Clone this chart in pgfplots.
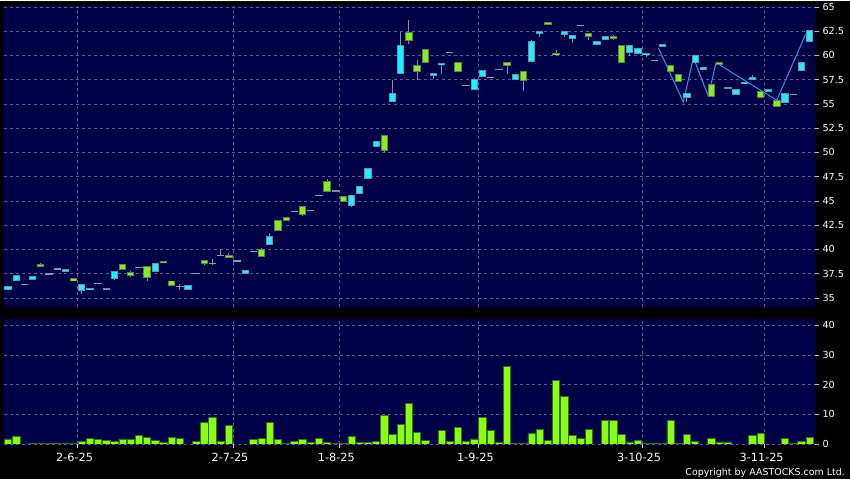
\documentclass[border=0pt]{standalone}
\usepackage{pgfplots}
\pgfplotsset{compat=1.18}
\usepackage{pgfplotstable}
\usepackage{fontspec}
\setmainfont{DejaVu Sans}

\definecolor{navy}{RGB}{0,0,70}
\definecolor{gridc}{RGB}{95,95,150}
\definecolor{cyanf}{RGB}{34,236,255}
\definecolor{cyanb}{RGB}{100,150,175}
\definecolor{greenf}{RGB}{136,236,34}
\definecolor{greenb}{RGB}{95,130,85}
\definecolor{dojic}{RGB}{150,150,172}
\definecolor{wickc}{RGB}{140,140,165}
\definecolor{volf}{RGB}{136,255,17}
\definecolor{volb}{RGB}{50,110,30}
\definecolor{linec}{RGB}{50,150,230}

% up (cyan) candles: body low/high, wick low/high
\pgfplotstableread{
i bl bh wl wh
0 35.86 36.24 35.86 36.24
1 36.78 37.37 36.78 37.37
3 36.89 37.24 36.89 37.24
7 37.71 37.99 37.71 37.99
9 35.75 36.44 35.44 36.44
10 35.80 36.03 35.80 36.03
12 35.80 36.00 35.80 36.00
13 37.00 37.80 36.85 37.80
18 37.71 38.57 37.71 38.57
22 35.80 36.34 35.80 36.34
29 37.50 37.90 37.50 37.90
32 40.50 41.40 40.50 41.70
40 45.90 46.10 45.90 46.10
42 44.50 45.60 44.35 45.60
43 45.75 46.55 45.75 46.55
44 47.30 48.40 47.30 48.40
45 50.60 51.20 50.60 51.20
47 55.24 56.10 55.24 57.50
48 58.06 61.10 58.06 62.45
52 57.92 58.16 57.55 58.16
53 58.99 59.23 58.10 59.23
57 56.41 57.55 56.41 57.70
58 57.80 58.47 57.80 58.47
62 57.44 58.06 57.44 58.06
64 59.30 61.50 59.30 61.60
65 62.25 62.50 61.90 62.50
68 62.15 62.50 61.90 62.50
69 61.73 62.10 61.30 62.10
72 61.05 61.46 61.05 61.46
73 61.57 61.98 61.57 61.98
76 60.23 61.05 59.90 61.05
77 60.12 60.74 60.12 60.74
78 60.02 60.26 59.80 60.26
80 60.88 61.19 60.88 61.19
83 55.65 56.13 55.20 56.13
84 59.20 60.02 59.20 60.02
85 58.47 58.78 58.47 58.78
88 56.52 56.72 56.52 56.72
89 55.96 56.52 55.96 56.52
90 57.03 57.27 57.03 57.27
91 57.50 57.82 57.50 57.95
93 56.20 56.58 56.20 56.58
95 55.10 56.13 55.10 56.13
97 58.37 59.30 58.37 59.30
98 61.36 62.66 61.36 62.66
}\cyantab

% down (green) candles
\pgfplotstableread{
i bl bh wl wh
4 38.23 38.50 38.23 38.60
8 36.70 37.06 36.70 37.06
14 37.85 38.50 37.85 38.50
15 37.30 37.68 37.20 37.78
17 37.03 38.30 36.70 38.30
19 38.60 38.85 38.60 38.85
20 36.27 36.80 36.27 36.80
24 38.54 38.90 38.35 38.90
27 39.15 39.43 39.15 39.60
31 39.20 40.05 39.20 40.20
33 41.90 43.00 41.90 43.00
34 42.90 43.32 42.90 43.32
36 43.60 44.45 43.45 44.45
39 45.96 47.06 45.96 47.25
41 44.93 45.48 44.93 45.48
46 50.15 51.80 49.95 51.80
49 61.53 62.42 61.15 63.66
50 58.30 59.00 57.50 59.54
51 59.26 60.64 59.26 60.64
55 58.27 59.30 58.27 59.30
61 58.90 59.30 58.10 59.30
63 57.40 58.40 56.34 58.40
66 63.10 63.42 63.10 63.42
67 60.02 60.26 60.02 60.60
71 61.87 62.30 61.60 62.30
74 61.73 62.04 61.60 62.15
75 59.20 61.05 59.20 61.05
81 58.33 59.00 58.33 59.00
82 57.30 58.06 57.30 58.06
86 55.75 57.03 55.75 57.03
87 59.02 59.30 59.02 59.30
92 55.59 56.30 55.59 56.30
94 54.69 55.41 54.69 55.41
}\greentab

% doji (open = close)
\pgfplotstableread{
i p wl wh
2 36.40 36.40 36.40
5 37.47 37.47 37.47
6 38.00 38.00 38.00
11 36.52 36.52 36.52
16 38.15 38.15 38.15
21 36.17 35.85 36.40
23 37.55 37.55 37.55
25 38.57 38.40 39.00
26 39.36 39.36 40.05
28 38.80 38.80 38.80
30 39.78 39.78 39.78
35 43.90 43.90 43.90
37 44.04 44.04 44.04
38 45.55 45.55 45.55
54 60.33 60.33 60.33
56 56.90 56.90 56.90
59 57.70 57.70 57.70
60 58.54 58.54 58.54
70 63.10 63.10 63.10
79 59.50 59.50 59.50
96 56.00 56.00 56.00
}\dojitab

% volume
\pgfplotstableread{
i v
0 1.7
1 2.7
3 0.2
4 0.3
5 0.1
6 0.1
7 0.1
8 0.3
9 1.0
10 2.0
11 1.5
12 1.3
13 0.8
14 1.7
15 1.5
16 2.9
17 2.3
18 1.1
19 0.4
20 2.1
21 1.8
23 0.9
24 7.3
25 8.9
26 1.0
27 6.1
30 1.5
31 1.9
32 7.3
33 1.5
34 0.2
35 0.9
36 1.6
37 0.6
38 2.0
39 0.6
40 0.1
41 0.1
42 2.5
43 0.6
44 0.4
45 1.0
46 9.5
47 3.1
48 6.7
49 13.6
50 3.8
51 1.1
53 4.6
54 0.8
55 5.7
56 0.8
57 1.7
58 8.9
59 4.6
60 0.4
61 26.2
62 0.2
63 0.2
64 3.5
65 4.8
66 1.2
67 21.4
68 16.1
69 3.0
70 1.8
71 4.8
73 8.0
74 7.8
75 3.1
76 0.7
77 1.1
78 0.2
79 0.3
80 0.3
81 7.8
82 0.1
83 3.1
84 0.8
86 1.8
87 0.7
88 0.7
91 2.8
92 3.5
95 2.0
96 0.3
97 0.8
98 2.1
}\voltab

\pgfplotsset{
  chartbase/.style={
    scale only axis, width=811bp, xmin=-0.5, xmax=98.65,
    axis background/.style={fill=navy},
    axis line style={draw=none},
    grid=major,
    major grid style={gridc, line width=0.6bp, dash pattern=on 3bp off 3bp},
    xtick={8.5,27.5,40.5,57.5,77.5,92.5},
    ytick pos=right, yticklabel pos=right,
    tick align=outside, major tick length=4bp,
    ytick style={white!75!black, line width=0.8bp},
    yticklabel style={font=\fontsize{9.7}{11}\selectfont, text=white},
    /pgf/number format/assume math mode=true,
  },
  seg/.style n args={3}{forget plot, mark=none, draw=#2, line width=#3, line cap=butt, -,
    quiver={u=0, v={#1}}},
}

\begin{document}
\begin{tikzpicture}
\fill[black] (0,0) rectangle (850bp,478bp);

\begin{axis}[chartbase,
  at={(4bp,172bp)}, anchor=south west, height=301bp,
  ymin=34.07, ymax=65.1,
  xticklabels={}, xtick style={draw=none},
  ytick={35,37.5,40,42.5,45,47.5,50,52.5,55,57.5,60,62.5,65},
]
% wicks
\addplot[seg={\thisrow{wh}-\thisrow{wl}}{wickc}{1bp}] table[x=i, y=wl] {\cyantab};
\addplot[seg={\thisrow{wh}-\thisrow{wl}}{wickc}{1bp}] table[x=i, y=wl] {\greentab};
\addplot[seg={\thisrow{wh}-\thisrow{wl}}{wickc}{1bp}] table[x=i, y=wl] {\dojitab};
% zigzag line
\addplot[linec, line width=1bp, mark=none] coordinates {
(79.5,60.8) (82.55,55.2) (83.78,59.78) (85.6,55.82) (86.55,59.26) (93.97,55.38) (97.5,62.18)};
% bodies: border, then fill
\addplot[seg={\thisrow{bh}-\thisrow{bl}}{cyanb}{7.3bp}] table[x=i, y=bl] {\cyantab};
\addplot[seg={max(\thisrow{bh}-\thisrow{bl}-0.2,0)}{cyanf}{5.3bp}] table[x=i, y expr=\thisrow{bl}+0.1] {\cyantab};
\addplot[seg={\thisrow{bh}-\thisrow{bl}}{greenb}{7.3bp}] table[x=i, y=bl] {\greentab};
\addplot[seg={max(\thisrow{bh}-\thisrow{bl}-0.2,0)}{greenf}{5.3bp}] table[x=i, y expr=\thisrow{bl}+0.1] {\greentab};
% doji
\addplot[only marks, mark=-, mark size=3.65bp, mark options={draw=dojic, line width=1.3bp}] table[x=i, y=p] {\dojitab};
\end{axis}

\begin{axis}[chartbase,
  at={(4bp,35bp)}, anchor=south west, height=125bp,
  ymin=0, ymax=42.1,
  ytick={0,10,20,30,40},
  xticklabels={2-6-25,2-7-25,1-8-25,1-9-25,3-10-25,3-11-25},
  xtick pos=left,
  xtick style={white!80!black, line width=0.8bp},
  xticklabel style={font=\fontsize{11.3}{12}\selectfont, text=white, anchor=base, xshift=-3bp, yshift=-13.5bp},
]
\addplot[ybar, bar width=0.9, fill=volf, draw=volb, line width=0.8bp] table[x=i, y=v] {\voltab};
\end{axis}

\node[anchor=base east, text=white, font=\fontsize{9.5}{11}\selectfont, inner sep=0pt] at (845bp,4bp) {Copyright by AASTOCKS.com Ltd.};
\end{tikzpicture}
\end{document}
